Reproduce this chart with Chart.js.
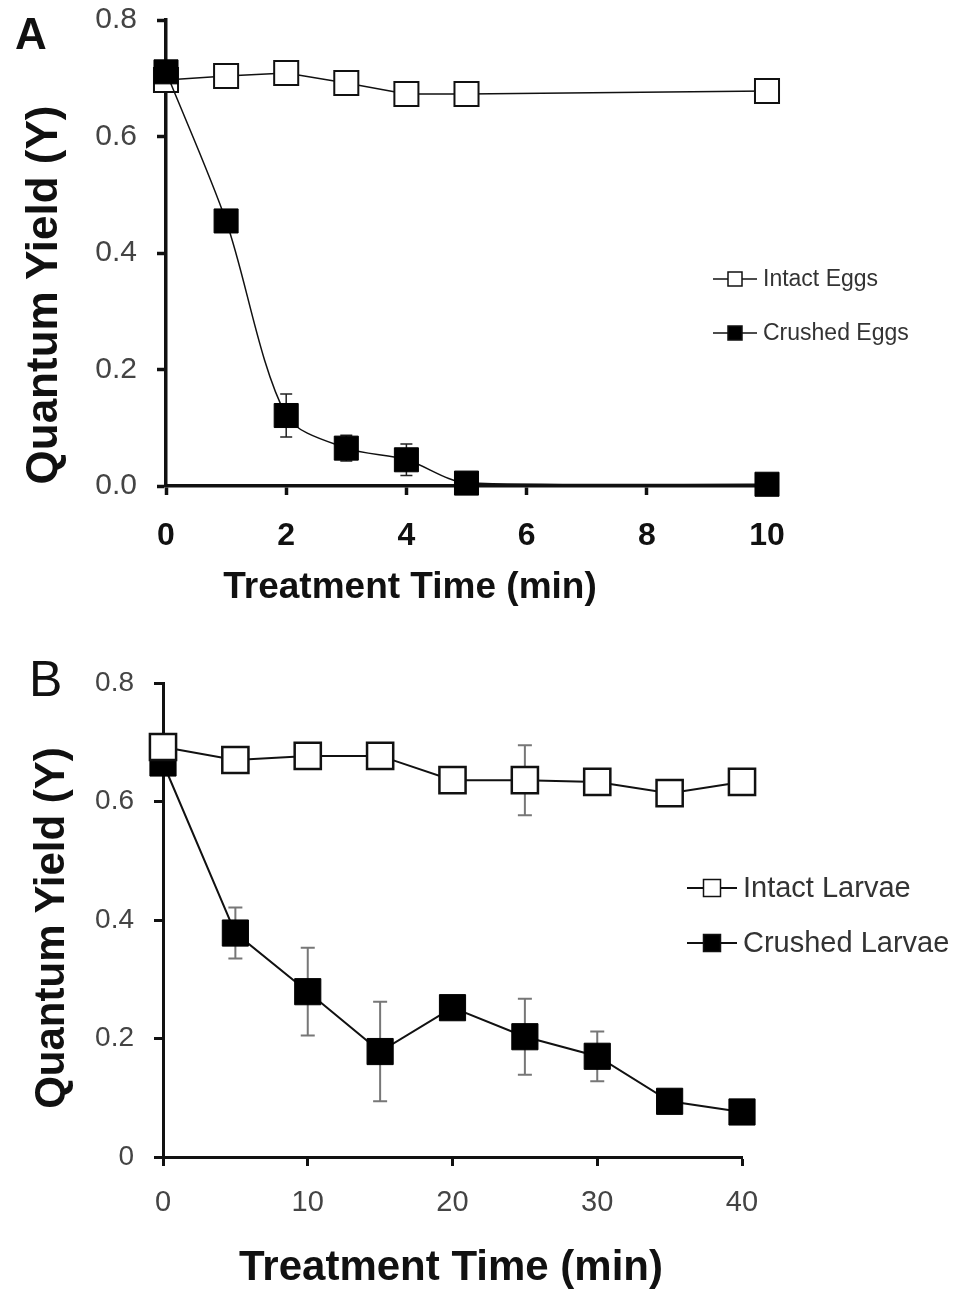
<!DOCTYPE html>
<html>
<head>
<meta charset="utf-8">
<script src="https://cdn.jsdelivr.net/npm/chart.js@4.4.1/dist/chart.umd.min.js"></script>
<style>
  body { margin: 0; background: #fff; width: 966px; height: 1291px; position: relative; overflow: hidden; }
  .panel { position: absolute; left: 0; }
  .txt { position: absolute; white-space: nowrap; color: #111; line-height: 1; font-family: 'Liberation Sans', Arial, sans-serif; }
  .title { font-weight: bold; }
  .ytitle { transform: translate(-50%, -50%) rotate(-90deg); }
  .xtitle { transform: translate(-50%, -50%); }
</style>
</head>
<body>
<canvas id="chartA" class="panel" width="966" height="630" style="top:0"></canvas>
<canvas id="chartB" class="panel" width="966" height="651" style="top:640px"></canvas>

<div class="txt" style="left:15px;top:12px;font-size:44px;font-weight:bold">A</div>
<div class="txt" style="left:29px;top:654px;font-size:50px">B</div>
<div class="txt title ytitle" style="left:42px;top:295px;font-size:44px">Quantum Yield (Y)</div>
<div class="txt title xtitle" style="left:410px;top:585px;font-size:37px">Treatment Time (min)</div>
<div class="txt title ytitle" style="left:50px;top:928px;font-size:42px">Quantum Yield (Y)</div>
<div class="txt title xtitle" style="left:451px;top:1266px;font-size:42px">Treatment Time (min)</div>

<script>
/* Quantum yield after treatment - eggs (A) and larvae (B) */

const EGG_TIMES = [0, 1, 2, 3, 4, 5, 10];
const INTACT_EGGS = [0.697, 0.704, 0.709, 0.692, 0.673, 0.673, 0.678];
const CRUSHED_EGGS = [0.711, 0.455, 0.121, 0.065, 0.045, 0.005, 0.003];
const CRUSHED_EGGS_ERR = [0, 0.015, 0.037, 0.022, 0.027, 0, 0];

const LARVAE_TIMES = [0, 5, 10, 15, 20, 25, 30, 35, 40];
const INTACT_LARVAE = [0.692, 0.670, 0.677, 0.677, 0.636, 0.636, 0.633, 0.614, 0.633];
const INTACT_LARVAE_ERR = [0, 0, 0, 0, 0, 0.059, 0, 0, 0];
const CRUSHED_LARVAE = [0.665, 0.378, 0.279, 0.178, 0.252, 0.203, 0.170, 0.094, 0.076];
const CRUSHED_LARVAE_ERR = [0, 0.043, 0.074, 0.084, 0.01, 0.064, 0.042, 0, 0];

const Y_MAX = 0.8;
const Y_STEP = 0.2;
const EGG_X_MAX = 10, EGG_X_STEP = 2;
const LARVAE_X_MAX = 40, LARVAE_X_STEP = 10;

const SANS = "'Liberation Sans', Arial, sans-serif";

function toPoints(xs, ys) {
    return xs.map((x, i) => ({ x, y: ys[i] }));
}

// vertical error bars with caps, drawn under the markers
const errorBars = {
    id: 'errorBars',
    beforeDatasetsDraw(chart, args, opts) {
        const { ctx } = chart;
        const xs = chart.scales.x, ys = chart.scales.y;
        chart.data.datasets.forEach(ds => {
            if (!ds.errors) return;
            ctx.save();
            ctx.strokeStyle = opts.color;
            ctx.lineWidth = opts.width;
            ds.data.forEach((p, i) => {
                const e = ds.errors[i];
                if (!e) return;
                const px = xs.getPixelForValue(p.x);
                const top = ys.getPixelForValue(p.y + e);
                const bot = ys.getPixelForValue(p.y - e);
                ctx.beginPath();
                ctx.moveTo(px, top); ctx.lineTo(px, bot);
                ctx.moveTo(px - opts.cap, top); ctx.lineTo(px + opts.cap, top);
                ctx.moveTo(px - opts.cap, bot); ctx.lineTo(px + opts.cap, bot);
                ctx.stroke();
            });
            ctx.restore();
        });
    },
};

// legend inside the plot: short line with a square marker, then the label
const insetLegend = {
    id: 'insetLegend',
    afterDraw(chart, args, o) {
        const { ctx } = chart;
        ctx.save();
        ctx.font = `${o.fontSize}px ${SANS}`;
        ctx.textBaseline = 'middle';
        chart.data.datasets.forEach((ds, i) => {
            const y = o.top + i * o.gap;
            const cx = o.left + o.lineLen / 2;
            ctx.strokeStyle = '#111';
            ctx.lineWidth = o.lineWidth;
            ctx.beginPath();
            ctx.moveTo(o.left, y);
            ctx.lineTo(o.left + o.lineLen, y);
            ctx.stroke();
            ctx.fillStyle = ds.pointBackgroundColor;
            ctx.fillRect(cx - o.box / 2, y - o.box / 2, o.box, o.box);
            ctx.lineWidth = 1.5;
            ctx.strokeRect(cx - o.box / 2, y - o.box / 2, o.box, o.box);
            ctx.fillStyle = '#333';
            ctx.fillText(ds.label, o.left + o.lineLen + o.textGap, y + 1);
        });
        ctx.restore();
    },
};

function axisStyle(lineW) {
    return {
        border: { display: true, color: '#111', width: lineW },
        grid: { display: true, drawOnChartArea: false, drawTicks: true, tickLength: 9, tickWidth: lineW, tickColor: '#111' },
    };
}

function makeChart(id, cfg) {
    return new Chart(document.getElementById(id), {
        type: 'line',
        data: { datasets: cfg.datasets },
        options: {
            responsive: false,
            animation: false,
            layout: { autoPadding: false, padding: cfg.padding },
            plugins: {
                legend: { display: false },
                tooltip: { enabled: false },
                errorBars: cfg.errorBars,
                insetLegend: cfg.legend,
            },
            scales: {
                x: {
                    type: 'linear',
                    min: 0,
                    max: cfg.xMax,
                    ...axisStyle(cfg.axisWidth),
                    ticks: {
                        stepSize: cfg.xStep,
                        padding: cfg.xTickPad,
                        color: cfg.xTickColor,
                        font: cfg.xTickFont,
                        maxRotation: 0,
                    },
                    afterFit: s => { s.height = cfg.xHeight; },
                },
                y: {
                    min: 0,
                    max: Y_MAX,
                    ...axisStyle(cfg.axisWidth),
                    ticks: {
                        stepSize: Y_STEP,
                        padding: 20,
                        color: cfg.yTickColor,
                        font: cfg.yTickFont,
                        callback: cfg.yFormat,
                    },
                    // fixed axis width; top label room comes from layout padding
                    afterFit: s => { s.width = cfg.yWidth; s.paddingTop = 0; },
                },
            },
        },
        plugins: [errorBars, insetLegend],
    });
}

makeChart('chartA', {
    padding: { top: 20, right: 199, bottom: 0, left: 0 },
    xMax: EGG_X_MAX, xStep: EGG_X_STEP,
    xHeight: 144, yWidth: 166,
    axisWidth: 3.5,
    xTickPad: 22,
    xTickColor: '#111',
    xTickFont: { family: SANS, size: 32, weight: 'bold' },
    yTickColor: '#444',
    yTickFont: { family: SANS, size: 30 },
    yFormat: v => v.toFixed(1),
    errorBars: { color: '#222', width: 1.5, cap: 6 },
    legend: { left: 713, top: 279, gap: 54, lineLen: 44, box: 14, lineWidth: 1.5, textGap: 6, fontSize: 23 },
    datasets: [
        {
            label: 'Intact Eggs',
            data: toPoints(EGG_TIMES, INTACT_EGGS),
            order: 1,
            borderColor: '#111', borderWidth: 1.5,
            pointStyle: 'rect', pointRadius: 17,
            pointBackgroundColor: '#fff', pointBorderColor: '#111', pointBorderWidth: 2,
            tension: 0, clip: false,
        },
        {
            label: 'Crushed Eggs',
            data: toPoints(EGG_TIMES, CRUSHED_EGGS),
            errors: CRUSHED_EGGS_ERR,
            order: 0,
            borderColor: '#111', borderWidth: 1.5,
            pointStyle: 'rect', pointRadius: 17,
            pointBackgroundColor: '#000', pointBorderColor: '#000', pointBorderWidth: 1,
            tension: 0.3, clip: false,
        },
    ],
});

makeChart('chartB', {
    padding: { top: 43, right: 224, bottom: 0, left: 0 },
    xMax: LARVAE_X_MAX, xStep: LARVAE_X_STEP,
    xHeight: 134, yWidth: 163,
    axisWidth: 3,
    xTickPad: 20,
    xTickColor: '#444',
    xTickFont: { family: SANS, size: 29 },
    yTickColor: '#444',
    yTickFont: { family: SANS, size: 28 },
    yFormat: v => (v === 0 ? '0' : v.toFixed(1)),
    errorBars: { color: '#777', width: 2, cap: 7 },
    legend: { left: 687, top: 248, gap: 55, lineLen: 50, box: 17, lineWidth: 2, textGap: 6, fontSize: 29 },
    datasets: [
        {
            label: 'Intact Larvae',
            data: toPoints(LARVAE_TIMES, INTACT_LARVAE),
            errors: INTACT_LARVAE_ERR,
            order: 0,
            borderColor: '#111', borderWidth: 2,
            pointStyle: 'rect', pointRadius: 18.5,
            pointBackgroundColor: '#fff', pointBorderColor: '#111', pointBorderWidth: 2.5,
            tension: 0, clip: false,
        },
        {
            label: 'Crushed Larvae',
            data: toPoints(LARVAE_TIMES, CRUSHED_LARVAE),
            errors: CRUSHED_LARVAE_ERR,
            order: 1,
            borderColor: '#111', borderWidth: 2,
            pointStyle: 'rect', pointRadius: 18.5,
            pointBackgroundColor: '#000', pointBorderColor: '#000', pointBorderWidth: 1,
            tension: 0, clip: false,
        },
    ],
});
</script>
</body>
</html>
